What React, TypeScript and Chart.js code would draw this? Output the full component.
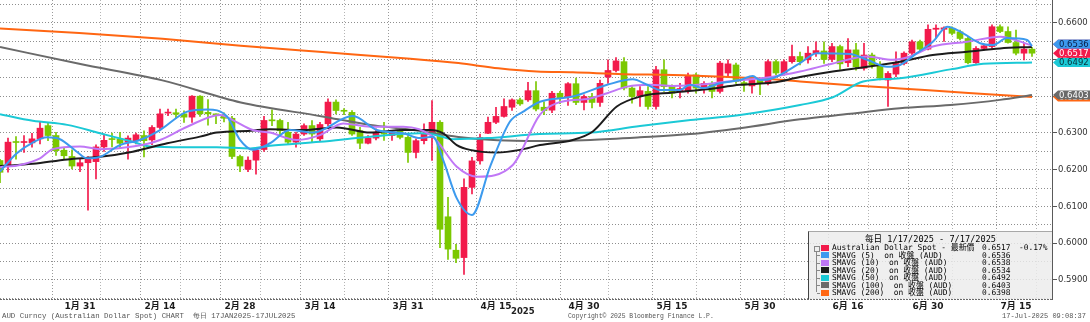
import React, { useEffect, useRef } from "react";
import { Chart, registerables } from "chart.js";

Chart.register(...registerables);

// ---- candle data (index 0 = 17 Jan 2025, one per weekday) ----
const openP = [
  0.6225, 0.6211, 0.6276, 0.6274, 0.6273, 0.6284, 0.6320, 0.6293, 0.6253, 0.6236,
  0.6210, 0.6219, 0.6222, 0.6262, 0.6283, 0.6284, 0.6275, 0.6279, 0.6293, 0.6281,
  0.6315, 0.6354, 0.6355, 0.6352, 0.6343, 0.6400, 0.6356, 0.6352, 0.6347, 0.6340,
  0.6236, 0.6201, 0.6226, 0.6255, 0.6335, 0.6334, 0.6302, 0.6275, 0.6297, 0.6320,
  0.6284, 0.6325, 0.6384, 0.6361, 0.6356, 0.6306, 0.6272, 0.6286, 0.6300, 0.6293,
  0.6306, 0.6288, 0.6247, 0.6279, 0.6297, 0.6329, 0.6072, 0.5981, 0.5961, 0.6152,
  0.6224, 0.6299, 0.6329, 0.6345, 0.6370, 0.6390, 0.6390, 0.6415, 0.6370, 0.6362,
  0.6408, 0.6399, 0.6434, 0.6383, 0.6399, 0.6383, 0.6452, 0.6470, 0.6494, 0.6422,
  0.6401, 0.6413, 0.6372, 0.6472, 0.6428, 0.6412, 0.6415, 0.6458, 0.6422, 0.6435,
  0.6413, 0.6463, 0.6485, 0.6437, 0.6428, 0.6443, 0.6435, 0.6494, 0.6463, 0.6494,
  0.6508, 0.6499, 0.6517, 0.6523, 0.6500, 0.6535, 0.6491, 0.6526, 0.6476, 0.6512,
  0.6485, 0.6444, 0.6460, 0.6489, 0.6517, 0.6548, 0.6528, 0.6582, 0.6582, 0.6585,
  0.6575, 0.6557, 0.6491, 0.6530, 0.6535, 0.6589, 0.6576, 0.6546, 0.6517, 0.6528,
];
const highP = [
  0.6228, 0.6286, 0.6290, 0.6293, 0.6299, 0.6330, 0.6329, 0.6302, 0.6261, 0.6254,
  0.6229, 0.6236, 0.6268, 0.6297, 0.6300, 0.6302, 0.6292, 0.6300, 0.6306, 0.6320,
  0.6365, 0.6365, 0.6365, 0.6360, 0.6402, 0.6402, 0.6391, 0.6352, 0.6355, 0.6345,
  0.6240, 0.6235, 0.6260, 0.6345, 0.6363, 0.6338, 0.6329, 0.6302, 0.6325, 0.6334,
  0.6329, 0.6393, 0.6390, 0.6366, 0.6361, 0.6315, 0.6293, 0.6311, 0.6329, 0.6306,
  0.6311, 0.6293, 0.6284, 0.6325, 0.6388, 0.6334, 0.6125, 0.5997, 0.6175, 0.6234,
  0.6297, 0.6343, 0.6370, 0.6393, 0.6393, 0.6395, 0.6438, 0.6440, 0.6385, 0.6413,
  0.6413, 0.6437, 0.6449, 0.6404, 0.6408, 0.6444, 0.6499, 0.6505, 0.6505, 0.6426,
  0.6426, 0.6426, 0.6481, 0.6499, 0.6431, 0.6435, 0.6463, 0.6463, 0.6440, 0.6440,
  0.6495, 0.6499, 0.6490, 0.6444, 0.6449, 0.6449, 0.6499, 0.6499, 0.6499, 0.6539,
  0.6520, 0.6535, 0.6548, 0.6548, 0.6544, 0.6539, 0.6557, 0.6544, 0.6544, 0.6517,
  0.6494, 0.6467, 0.6521, 0.6521, 0.6553, 0.6553, 0.6594, 0.6594, 0.6589, 0.6589,
  0.6580, 0.6562, 0.6535, 0.6539, 0.6594, 0.6594, 0.6589, 0.6580, 0.6544, 0.6533,
];
const lowP = [
  0.6165, 0.6193, 0.6229, 0.6247, 0.6261, 0.6270, 0.6279, 0.6239, 0.6228, 0.6202,
  0.6195, 0.6090, 0.6175, 0.6250, 0.6262, 0.6259, 0.6229, 0.6270, 0.6235, 0.6268,
  0.6310, 0.6347, 0.6340, 0.6329, 0.6329, 0.6345, 0.6321, 0.6325, 0.6330, 0.6230,
  0.6195, 0.6195, 0.6188, 0.6250, 0.6320, 0.6293, 0.6270, 0.6261, 0.6293, 0.6275,
  0.6279, 0.6320, 0.6352, 0.6350, 0.6293, 0.6257, 0.6270, 0.6281, 0.6280, 0.6280,
  0.6284, 0.6220, 0.6232, 0.6270, 0.6225, 0.5988, 0.5956, 0.5947, 0.5915, 0.6134,
  0.6215, 0.6298, 0.6325, 0.6343, 0.6361, 0.6375, 0.6386, 0.6360, 0.6350, 0.6355,
  0.6380, 0.6375, 0.6377, 0.6363, 0.6368, 0.6372, 0.6435, 0.6466, 0.6417, 0.6381,
  0.6372, 0.6365, 0.6365, 0.6413, 0.6395, 0.6395, 0.6408, 0.6408, 0.6408, 0.6395,
  0.6408, 0.6454, 0.6435, 0.6413, 0.6408, 0.6404, 0.6431, 0.6458, 0.6458, 0.6490,
  0.6485, 0.6490, 0.6508, 0.6489, 0.6494, 0.6473, 0.6480, 0.6471, 0.6471, 0.6476,
  0.6444, 0.6372, 0.6453, 0.6485, 0.6512, 0.6524, 0.6526, 0.6558, 0.6549, 0.6567,
  0.6553, 0.6488, 0.6489, 0.6526, 0.6530, 0.6573, 0.6544, 0.6512, 0.6499, 0.6508,
];
const closeP = [
  0.6193, 0.6275, 0.6274, 0.6276, 0.6284, 0.6313, 0.6293, 0.6252, 0.6238, 0.6210,
  0.6219, 0.6229, 0.6262, 0.6280, 0.6282, 0.6272, 0.6286, 0.6295, 0.6279, 0.6315,
  0.6352, 0.6355, 0.6351, 0.6343, 0.6400, 0.6352, 0.6352, 0.6347, 0.6340, 0.6236,
  0.6210, 0.6226, 0.6253, 0.6334, 0.6333, 0.6306, 0.6275, 0.6297, 0.6320, 0.6297,
  0.6323, 0.6384, 0.6361, 0.6359, 0.6297, 0.6272, 0.6286, 0.6302, 0.6297, 0.6302,
  0.6288, 0.6247, 0.6279, 0.6297, 0.6329, 0.6038, 0.5984, 0.5959, 0.6152, 0.6224,
  0.6288, 0.6329, 0.6345, 0.6372, 0.6390, 0.6379, 0.6415, 0.6365, 0.6361, 0.6408,
  0.6394, 0.6434, 0.6383, 0.6399, 0.6383, 0.6435, 0.6470, 0.6496, 0.6422, 0.6399,
  0.6415, 0.6372, 0.6472, 0.6426, 0.6408, 0.6421, 0.6455, 0.6422, 0.6435, 0.6413,
  0.6490, 0.6488, 0.6440, 0.6431, 0.6443, 0.6435, 0.6494, 0.6463, 0.6494, 0.6508,
  0.6494, 0.6517, 0.6524, 0.6500, 0.6535, 0.6488, 0.6526, 0.6480, 0.6512, 0.6485,
  0.6449, 0.6462, 0.6489, 0.6517, 0.6548, 0.6528, 0.6582, 0.6585, 0.6586, 0.6571,
  0.6557, 0.6491, 0.6530, 0.6537, 0.6589, 0.6576, 0.6546, 0.6517, 0.6528, 0.6517,
];

// ---- moving averages: [candle index, value] ----
const sma5 = [
  [0, 0.6195], [2.1, 0.6245], [4.1, 0.6274], [5.9, 0.6288], [7.5, 0.6283], [9.6, 0.6249],
  [10.9, 0.6231], [12.5, 0.6235], [15, 0.6267], [17.5, 0.6281], [20, 0.6308], [23.4, 0.6358],
  [25.9, 0.6364], [28.4, 0.6344], [30, 0.6281], [31.6, 0.6254], [33.75, 0.6272], [36.25, 0.6308],
  [39.1, 0.6301], [44.1, 0.6346], [47.1, 0.6308], [50.4, 0.6299], [52.5, 0.6286], [54.1, 0.6290],
  [55.4, 0.6226], [57.1, 0.6122], [59, 0.6077], [61.25, 0.6208], [63.75, 0.6331], [65.4, 0.6358],
  [67.5, 0.6385], [71.6, 0.6399], [75.9, 0.6431], [79.1, 0.6446], [80.9, 0.6431], [82.5, 0.6417],
  [85, 0.6417], [86.25, 0.6431], [87.9, 0.6422], [90, 0.6435], [92.5, 0.6444], [94.1, 0.6455],
  [95, 0.6444], [96.6, 0.6449], [100, 0.6490], [102.1, 0.6517], [106.25, 0.6515], [108.4, 0.6499],
  [110.9, 0.6480], [112.5, 0.6485], [114.6, 0.6517], [116.6, 0.6548], [118.4, 0.6589], [120.4, 0.6571],
  [122.5, 0.6544], [124.1, 0.6539], [125.9, 0.6558], [128.4, 0.6553], [129, 0.6536],
];
const sma10 = [
  [0, 0.6207], [2.5, 0.6213], [5, 0.6231], [6.6, 0.6256], [10, 0.6263], [12.5, 0.6256],
  [16.6, 0.6263], [20, 0.6281], [23.4, 0.6317], [27.5, 0.6349], [29.1, 0.6335], [31.6, 0.6308],
  [33.75, 0.6301], [37.1, 0.6281], [40, 0.6294], [42.9, 0.6326], [46.3, 0.6317], [50.4, 0.6317],
  [54.1, 0.6290], [57.1, 0.6208], [59.6, 0.6181], [64.1, 0.6213], [67.5, 0.6350], [69.6, 0.6381],
  [73.75, 0.6394], [75.9, 0.6408], [78.4, 0.6426], [81.25, 0.6431], [84.1, 0.6428], [88.4, 0.6433],
  [90.9, 0.6440], [96.6, 0.6453], [100, 0.6467], [104.1, 0.6489], [108.4, 0.6508], [111.6, 0.6499],
  [113.75, 0.6508], [116.6, 0.6535], [120.9, 0.6548], [125, 0.6562], [129, 0.6538],
];
const sma20 = [
  [0, 0.6210], [4.1, 0.6216], [8.4, 0.6228], [12.5, 0.6235], [16.6, 0.6249], [20.9, 0.6272],
  [25, 0.6290], [27.1, 0.6301], [31.3, 0.6306], [33.75, 0.6310], [37.9, 0.6308], [42.1, 0.6315],
  [46.3, 0.6301], [50.4, 0.6308], [53.75, 0.6308], [55.4, 0.6299], [57.1, 0.6267], [58.75, 0.6254],
  [62.1, 0.6247], [65, 0.6254], [67.5, 0.6267], [71.6, 0.6281], [74.1, 0.6304], [77.1, 0.6372],
  [80, 0.6399], [84.1, 0.6410], [88.4, 0.6419], [92.5, 0.6431], [96.6, 0.6437], [100, 0.6452],
  [104.1, 0.6467], [108.4, 0.6480], [112.5, 0.6494], [116.6, 0.6512], [120.9, 0.6521], [125, 0.6530],
  [129, 0.6534],
];
const sma50 = [
  [0, 0.6351], [4.1, 0.6333], [8.4, 0.6322], [12.5, 0.6299], [16.6, 0.6276], [18.8, 0.6263],
  [22.9, 0.6261], [27.1, 0.6261], [31.3, 0.6258], [33.75, 0.6265], [40, 0.6276], [46.3, 0.6290],
  [52.5, 0.6299], [54.6, 0.6294], [56.6, 0.6283], [60.9, 0.6286], [67.5, 0.6297], [73.8, 0.6301],
  [80, 0.6319], [86.3, 0.6335], [92.5, 0.6349], [100, 0.6376], [104.1, 0.6397], [107.9, 0.6440],
  [112.5, 0.6449], [118.8, 0.6473], [122.9, 0.6488], [129, 0.6492],
];
const sma100 = [
  [0, 0.6534], [9.9, 0.6488], [20.3, 0.6443], [30.1, 0.6383], [40.3, 0.6345], [46.3, 0.6322],
  [51.4, 0.6309], [57.3, 0.6289], [62.2, 0.6280], [67.5, 0.6278], [73.8, 0.6281], [80, 0.6288],
  [86.3, 0.6297], [92.5, 0.6313], [100, 0.6337], [106.3, 0.6352], [112.5, 0.6367], [118.8, 0.6376],
  [125, 0.6390], [129, 0.6403],
];
const sma200 = [
  [0, 0.6584], [9.9, 0.6572], [20.3, 0.6556], [30.1, 0.6537], [40.3, 0.6520], [51.3, 0.6502],
  [57.3, 0.6490], [62.3, 0.6476], [67.1, 0.6467], [71.6, 0.6465], [77.9, 0.6460], [84.1, 0.6458],
  [90.4, 0.6453], [96.6, 0.6446], [100, 0.6440], [106.3, 0.6430], [112.5, 0.6421], [118.8, 0.6412],
  [125, 0.6403], [129, 0.6398],
];

// ---- axis ticks ----
const xGridIdx = [3, 10, 15, 20, 25, 30, 35, 40, 46, 51, 57, 62, 67, 73, 79, 84, 90, 95, 101, 106, 111, 116, 122, 127];
const xTickIdx = [10, 20, 30, 40, 51, 62, 73, 84, 95, 106, 116, 127];
const xTickLabels = ["1月 31", "2月 14", "2月 28", "3月 14", "3月 31", "4月 15", "4月 30", "5月 15", "5月 30", "6月 16", "6月 30", "7月 15"];
const yTickValues = [0.585, 0.59, 0.595, 0.6, 0.605, 0.61, 0.615, 0.62, 0.625, 0.63, 0.635, 0.64, 0.645, 0.65, 0.655, 0.66, 0.665];
const yTickLabels = ["", "0.5900", "", "0.6000", "", "0.6100", "", "0.6200", "", "0.6300", "", "0.6400", "", "0.6500", "", "0.6600", ""];

const UP = "#F21A4B";
const DOWN = "#7BC800";
const C5 = "#3C9AEE";
const C10 = "#C077F6";
const C20 = "#1C1C1C";
const C50 = "#1BC9D6";
const C100 = "#6A6A6A";
const C200 = "#FF6612";

const series = [
  { name: "SMAVG (5)  on 收盤 (AUD)", data: sma5, color: C5, tagText: "#0a1d45" },
  { name: "SMAVG (10)  on 收盤 (AUD)", data: sma10, color: C10, tagText: "#ffffff" },
  { name: "SMAVG (20)  on 收盤 (AUD)", data: sma20, color: C20, tagText: "#ffffff" },
  { name: "SMAVG (50)  on 收盤 (AUD)", data: sma50, color: C50, tagText: "#06303a" },
  { name: "SMAVG (100)  on 收盤 (AUD)", data: sma100, color: C100, tagText: "#ffffff" },
  { name: "SMAVG (200)  on 收盤 (AUD)", data: sma200, color: C200, tagText: "#ffffff" },
];

const lastClose = closeP[closeP.length - 1];
const prevClose = closeP[closeP.length - 2];
const pctChange = ((lastClose - prevClose) / prevClose) * 100;
const lastOf = (d: number[][]) => d[d.length - 1][1];

const tagPlugin = {
  id: "bbgTags",
  afterDraw(chart: any) {
    const { ctx, chartArea } = chart;
    const y = chart.scales.y;
    // dotted x-axis line
    ctx.save();
    ctx.strokeStyle = "#6a6a6a";
    ctx.lineWidth = 1;
    ctx.setLineDash([2, 1]);
    ctx.beginPath();
    ctx.moveTo(chartArea.left, Math.round(chartArea.bottom) + 0.5);
    ctx.lineTo(chartArea.right, Math.round(chartArea.bottom) + 0.5);
    ctx.stroke();
    ctx.restore();

    const closeY = y.getPixelForValue(lastClose);
    const order = [5, 4, 2, 1, 0, 3];
    const tags: { yc: number; fill: string; text: string; label: string }[] = [];
    order.forEach((k) => {
      const s = series[k];
      const v = lastOf(s.data);
      let yc = y.getPixelForValue(v);
      if (v > lastClose && yc > closeY - 9) yc = closeY - 9;
      tags.push({ yc, fill: s.color, text: s.tagText, label: v.toFixed(4) });
    });
    tags.push({ yc: closeY, fill: UP, text: "#ffffff", label: lastClose.toFixed(4) });

    const x0 = chartArea.right + 1;
    const x1 = chart.width;
    ctx.save();
    ctx.font = "8.5px 'DejaVu Sans'";
    ctx.textBaseline = "middle";
    ctx.textAlign = "left";
    tags.forEach((t) => {
      ctx.fillStyle = t.fill;
      ctx.beginPath();
      ctx.moveTo(x0, t.yc);
      ctx.lineTo(x0 + 5, t.yc - 4.5);
      ctx.lineTo(x1, t.yc - 4.5);
      ctx.lineTo(x1, t.yc + 4.5);
      ctx.lineTo(x0 + 5, t.yc + 4.5);
      ctx.closePath();
      ctx.fill();
      ctx.fillStyle = t.text;
      ctx.fillText(t.label, x0 + 6, t.yc + 0.5);
    });
    ctx.restore();
  },
};

export default function App() {
  const ref = useRef<HTMLCanvasElement>(null);

  useEffect(() => {
    if (!ref.current) return;
    const bodies = openP.map((o, i) => ({ x: i, y: [o, closeP[i]] }));
    const wicks = openP.map((_, i) => ({ x: i, y: [lowP[i], highP[i]] }));
    const isUp = openP.map((o, i) => closeP[i] >= o);
    const lineSets = series.map((s, k) => ({
      type: "line" as const,
      label: s.name,
      data: s.data.map(([x, v]) => ({ x, y: v })),
      borderColor: s.color,
      backgroundColor: s.color,
      borderWidth: 2,
      pointRadius: 0,
      cubicInterpolationMode: "monotone" as const,
      order: k,
    }));

    const chart = new Chart(ref.current, {
      type: "bar",
      data: {
        datasets: [
          ...lineSets,
          {
            type: "bar",
            label: "body",
            data: bodies as any,
            backgroundColor: isUp.map((u) => (u ? UP : DOWN)),
            barThickness: 6,
            grouped: false,
            minBarLength: 1,
            order: 10,
          },
          {
            type: "bar",
            label: "wick",
            data: wicks as any,
            backgroundColor: isUp.map((u) => (u ? UP : DOWN)),
            barThickness: 1,
            grouped: false,
            order: 11,
          },
        ] as any,
      },
      options: {
        animation: false,
        responsive: false,
        maintainAspectRatio: false,
        events: [],
        layout: { padding: 0 },
        plugins: { legend: { display: false }, tooltip: { enabled: false } },
        scales: {
          x: {
            type: "linear",
            min: 0,
            max: 131.5,
            offset: false,
            afterBuildTicks: (s: any) => {
              s.ticks = xGridIdx.map((v) => ({ value: v }));
            },
            afterFit: (s: any) => {
              s.height = 23;
              s.paddingLeft = 0;
              s.paddingRight = 0;
            },
            grid: {
              color: (c: any) => (xTickIdx.includes(c.tick?.value) ? "#9a9a9a" : "#b4b4b4"),
              lineWidth: 1,
              drawTicks: false,
            },
            border: { display: false, dash: [1, 2] },
            ticks: {
              autoSkip: false,
              maxRotation: 0,
              padding: 2,
              color: "#1a1a1a",
              font: { family: "'DejaVu Sans', 'Noto Sans CJK TC'", size: 9, weight: "bold" },
              callback: (v: any) => {
                const k = xTickIdx.indexOf(v);
                return k >= 0 ? xTickLabels[k] : "";
              },
            },
          },
          y: {
            type: "linear",
            position: "right",
            min: 0.58483,
            max: 0.66617,
            afterBuildTicks: (s: any) => {
              s.ticks = yTickValues.map((v) => ({ value: v }));
            },
            afterFit: (s: any) => {
              s.width = 38;
              s.paddingTop = 0;
              s.paddingBottom = 0;
            },
            grid: {
              color: "#8e8e8e",
              lineWidth: 1,
              tickLength: 5,
              tickColor: (c: any) => (yTickLabels[c.index] ? "#555" : "rgba(0,0,0,0)"),
            },
            border: { display: true, color: "#5a5a5a", width: 1, dash: [1, 2] },
            ticks: {
              padding: 1,
              color: "#333",
              font: { family: "'DejaVu Sans'", size: 8.5 },
              callback: (_v: any, i: number) => yTickLabels[i],
            },
          },
        },
      } as any,
      plugins: [tagPlugin],
    });
    return () => chart.destroy();
  }, []);

  const rowTop = 12;
  const rowH = 7.5;
  const legendRows = [
    { color: UP, name: "Australian Dollar Spot - 最新價", value: lastClose.toFixed(4), extra: `${pctChange.toFixed(2)}%` },
    ...series.map((s) => ({ color: s.color, name: s.name, value: lastOf(s.data).toFixed(4), extra: "" })),
  ];
  const mono = "'DejaVu Sans Mono', 'Noto Sans CJK TC', monospace";

  return (
    <div style={{ position: "absolute", left: 0, top: 0, width: 1090, height: 322, background: "#fff", overflow: "hidden" }}>
      <canvas ref={ref} width={1090} height={322} style={{ display: "block", width: 1090, height: 322 }} />
      {/* legend box */}
      <div
        style={{
          position: "absolute",
          left: 808,
          top: 231,
          width: 244,
          height: 68,
          boxSizing: "border-box",
          background: "rgba(236,236,236,0.82)",
          borderLeft: "1px solid #444",
          borderTop: "1px solid #a8a8a8",
          fontFamily: mono,
          fontSize: 7.9,
          color: "#000",
        }}
      >
        <div style={{ position: "absolute", left: 0, top: 3, width: "100%", textAlign: "center", lineHeight: "9px", whiteSpace: "pre", fontSize: 8.6 }}>
          {"每日 1/17/2025 - 7/17/2025"}
        </div>
        <div style={{ position: "absolute", left: 7, top: rowTop + 3, width: 1, height: rowH * 6, background: "#888" }} />
        <div style={{ position: "absolute", left: 5, top: rowTop + 1.5, width: 4, height: 4, border: "1px solid #888", background: "#eee" }} />
        {legendRows.map((r, k) => (
          <React.Fragment key={k}>
            {k > 0 && <div style={{ position: "absolute", left: 8, top: rowTop + k * rowH + 3.5, width: 3, height: 1, background: "#888" }} />}
            <div style={{ position: "absolute", left: 12, top: rowTop + k * rowH + 0.8, width: 8, height: 6, background: r.color }} />
            <div style={{ position: "absolute", left: 23, top: rowTop + k * rowH, lineHeight: `${rowH}px`, whiteSpace: "pre" }}>{r.name}</div>
            <div style={{ position: "absolute", left: 173, top: rowTop + k * rowH, lineHeight: `${rowH}px` }}>{r.value}</div>
            {r.extra && <div style={{ position: "absolute", left: 210, top: rowTop + k * rowH, lineHeight: `${rowH}px` }}>{r.extra}</div>}
          </React.Fragment>
        ))}
      </div>
      {/* year label */}
      <div style={{ position: "absolute", left: 511, top: 306, fontFamily: "'DejaVu Sans'", fontWeight: "bold", fontSize: 8.5, color: "#222", lineHeight: "10px" }}>2025</div>
      {/* footer */}
      <div style={{ position: "absolute", left: 2, top: 312, fontFamily: "'Liberation Mono', monospace", fontSize: 7.4, color: "#555", lineHeight: "9px", whiteSpace: "pre" }}>
        {"AUD Curncy (Australian Dollar Spot) CHART  每日 17JAN2025-17JUL2025"}
      </div>
      <div style={{ position: "absolute", left: 568, top: 312, fontFamily: "'Liberation Mono', monospace", fontSize: 6.4, color: "#555", lineHeight: "9px", whiteSpace: "pre" }}>
        {"Copyright© 2025 Bloomberg Finance L.P."}
      </div>
      <div style={{ position: "absolute", right: 4, top: 312, fontFamily: "'Liberation Mono', monospace", fontSize: 7, color: "#555", lineHeight: "9px", whiteSpace: "pre" }}>
        {"17-Jul-2025 09:08:37"}
      </div>
    </div>
  );
}
